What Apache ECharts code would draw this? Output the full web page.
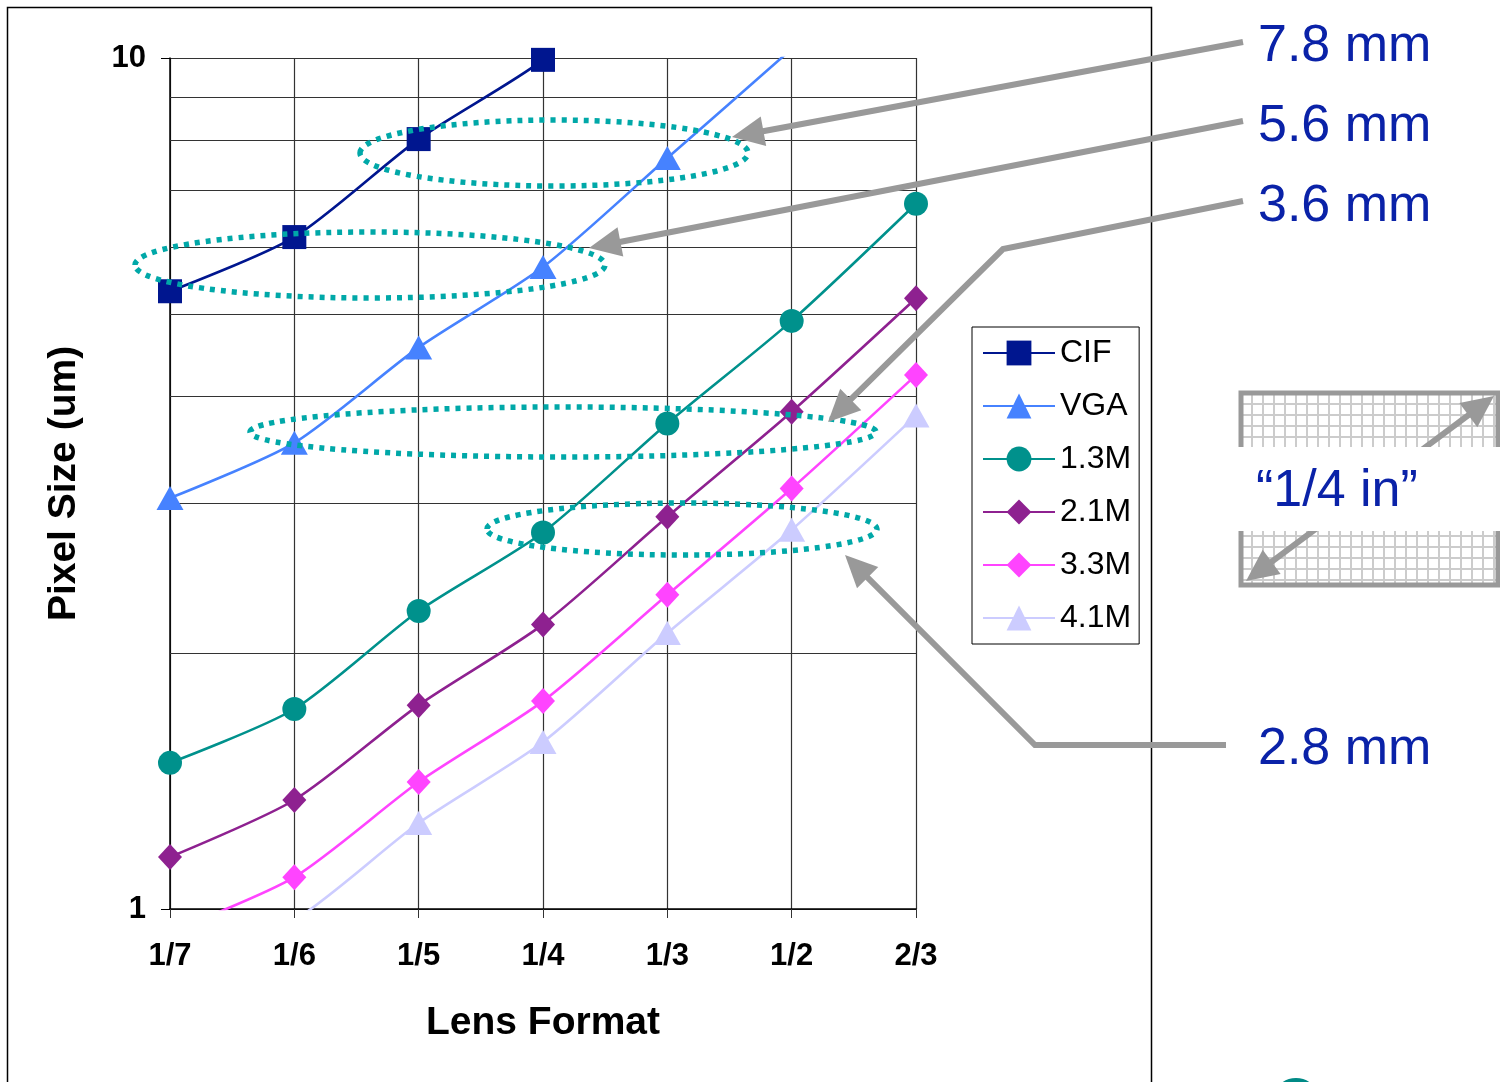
<!DOCTYPE html>
<html>
<head>
<meta charset="utf-8">
<script src="https://cdn.jsdelivr.net/npm/echarts@6/dist/echarts.min.js"></script>
<style>html,body{margin:0;padding:0;background:#fff}#c{width:1500px;height:1082px}</style>
</head>
<body>
<div id="c"></div>
<script>
// ---- data ----
const lensFormats = ['1/7', '1/6', '1/5', '1/4', '1/3', '1/2', '2/3'];
const cif   = [5.32, 6.16, 8.03, 9.95, 13.4, 17.8, 24.3];
const vga   = [3.04, 3.53, 4.57, 5.68, 7.63, 10.25, 13.9];
const m13   = [1.485, 1.718, 2.24, 2.77, 3.72, 4.91, 6.74];
const m21   = [1.151, 1.343, 1.736, 2.16, 2.89, 3.84, 5.22];
const m33   = [0.94, 1.09, 1.41, 1.755, 2.34, 3.12, 4.24];
const m41   = [0.84, 0.97, 1.262, 1.571, 2.11, 2.79, 3.80];
const minorGrid = [2, 3, 4, 5, 6, 7, 8, 9];
const annoTexts = ['7.8 mm', '5.6 mm', '3.6 mm', '2.8 mm', '\u201C1/4 in\u201D'];

const FONT = '"Liberation Sans", Arial, Helvetica, sans-serif';
const chart = echarts.init(document.getElementById('c'), null, {renderer: 'canvas'});

function ser(name, data, color, symbol, size) {
  return {
    name, type: 'line', data, smooth: 0.25,
    symbol, symbolSize: size,
    lineStyle: {color, width: 2.6},
    itemStyle: {color},
    z: 3
  };
}

const series = [
  ser('CIF', cif, '#00168f', 'rect', 24),
  ser('VGA', vga, '#4682ff', 'triangle', [27, 24]),
  ser('1.3M', m13, '#00918c', 'circle', 24),
  ser('2.1M', m21, '#8e2190', 'diamond', [24, 26]),
  ser('3.3M', m33, '#ff44ff', 'diamond', [24, 26]),
  ser('4.1M', m41, '#ccccff', 'triangle', [27, 24])
];
series[0].markLine = {
  silent: true, symbol: 'none', z: 1,
  label: {show: false},
  lineStyle: {color: '#333', type: 'solid', width: 1.2},
  data: minorGrid.map(v => ({yAxis: v}))
};

// ---- annotations (decorations) ----
const TEAL = '#00a8a8', GREY = '#999999', BLUE = '#0a22a8';
const g = [];
g.push({type: 'rect', shape: {x: 7.5, y: 7.5, width: 1144, height: 1100}, style: {fill: 'none', stroke: '#000', lineWidth: 1.5}, z: 0});
[[554,153,194,33],[370,265,235,33],[563,432,313,25],[682,529,195,26]].forEach(e => {
  g.push({type: 'ellipse', shape: {cx: e[0], cy: e[1], rx: e[2], ry: e[3]},
    style: {fill: 'none', stroke: TEAL, lineWidth: 5.5, lineDash: [5, 6]}, z: 10});
});
function arrowHead(tx, ty, fx, fy, len, w) {
  const dx = tx - fx, dy = ty - fy, L = Math.hypot(dx, dy);
  const ux = dx / L, uy = dy / L;
  const bx = tx - ux * len, by = ty - uy * len;
  return [[tx, ty], [bx - uy * w, by + ux * w], [bx + uy * w, by - ux * w]];
}
function arrow(points) {
  const n = points.length;
  const tip = points[n - 1], prev = points[n - 2];
  const head = arrowHead(tip[0], tip[1], prev[0], prev[1], 32, 15);
  const dx = tip[0] - prev[0], dy = tip[1] - prev[1], L = Math.hypot(dx, dy);
  const pts = points.slice(0, n - 1).concat([[tip[0] - dx / L * 26, tip[1] - dy / L * 26]]);
  g.push({type: 'polyline', shape: {points: pts}, style: {stroke: GREY, lineWidth: 6, fill: 'none'}, z: 11});
  g.push({type: 'polygon', shape: {points: head}, style: {fill: GREY}, z: 11});
}
arrow([[1243, 42], [732, 137]]);
arrow([[1243, 121], [589, 248]]);
arrow([[1243, 201], [1003, 249], [828, 422]]);
arrow([[1226, 745], [1035, 745], [845, 555]]);

const bx0 = 1241, by0 = 393, bx1 = 1498, by1 = 585;
for (let x = bx0 + 11; x < bx1; x += 11) g.push({type: 'line', shape: {x1: x, y1: by0, x2: x, y2: by1}, style: {stroke: '#cccccc', lineWidth: 2}, z: 5});
for (let y = by0 + 11; y < by1; y += 11) g.push({type: 'line', shape: {x1: bx0, y1: y, x2: bx1, y2: y}, style: {stroke: '#cccccc', lineWidth: 2}, z: 5});
g.push({type: 'rect', shape: {x: bx0, y: by0, width: bx1 - bx0, height: by1 - by0}, style: {fill: 'none', stroke: GREY, lineWidth: 5}, z: 6});
(function () {
  const a = [1246, 581], b = [1494, 396];
  const h1 = arrowHead(b[0], b[1], a[0], a[1], 32, 15);
  const h2 = arrowHead(a[0], a[1], b[0], b[1], 32, 15);
  const dx = b[0] - a[0], dy = b[1] - a[1], L = Math.hypot(dx, dy);
  g.push({type: 'line', shape: {x1: a[0] + dx / L * 26, y1: a[1] + dy / L * 26, x2: b[0] - dx / L * 26, y2: b[1] - dy / L * 26}, style: {stroke: GREY, lineWidth: 6}, z: 7});
  g.push({type: 'polygon', shape: {points: h1}, style: {fill: GREY}, z: 7});
  g.push({type: 'polygon', shape: {points: h2}, style: {fill: GREY}, z: 7});
})();
g.push({type: 'rect', shape: {x: 1236, y: 447, width: 264, height: 84}, style: {fill: '#fff'}, z: 8});

[[1258, 47], [1258, 127], [1258, 207], [1258, 750], [1256, 492]].forEach((p, i) => {
  g.push({type: 'text', x: p[0], y: p[1], style: {text: annoTexts[i], fill: BLUE, font: '52px ' + FONT, textVerticalAlign: 'middle', textAlign: 'left'}, z: 12});
});
g.push({type: 'ellipse', shape: {cx: 1296, cy: 1094, rx: 20, ry: 16}, style: {fill: '#008a86'}, z: 2});

const option = {
  backgroundColor: '#fff',
  animation: false,
  grid: {left: 170, right: 584, top: 58, bottom: 173, containLabel: false},
  legend: {
    orient: 'vertical', left: 972, top: 327,
    padding: [10, 8, 10, 10],
    itemWidth: 72, itemHeight: 31, itemGap: 21,
    borderColor: '#000', borderWidth: 1, backgroundColor: '#fff',
    textStyle: {fontSize: 32, fontFamily: FONT, color: '#000'},
    data: ['CIF', 'VGA', '1.3M', '2.1M', '3.3M', '4.1M'],
    z: 20
  },
  xAxis: {
    type: 'category', data: lensFormats, boundaryGap: false,
    name: 'Lens Format', nameLocation: 'middle', nameGap: 95,
    nameTextStyle: {fontSize: 39, fontWeight: 'bold', fontFamily: FONT, color: '#000'},
    axisLine: {lineStyle: {color: '#000', width: 1.5}},
    axisTick: {show: true, length: 9, alignWithLabel: true, lineStyle: {color: '#333'}},
    axisLabel: {fontSize: 31, fontWeight: 'bold', fontFamily: FONT, color: '#000', margin: 32},
    splitLine: {show: true, lineStyle: {color: '#333', width: 1.2}}
  },
  yAxis: {
    type: 'log', logBase: 10, min: 1, max: 10,
    name: 'Pixel Size (um)', nameLocation: 'middle', nameGap: 86,
    nameTextStyle: {fontSize: 39, fontWeight: 'bold', fontFamily: FONT, color: '#000'},
    axisLine: {show: true, lineStyle: {color: '#000', width: 1.5}},
    axisTick: {show: true, length: 9, lineStyle: {color: '#000'}},
    axisLabel: {fontSize: 31, fontWeight: 'bold', fontFamily: FONT, color: '#000', margin: 24},
    splitLine: {show: true, lineStyle: {color: '#333', width: 1.2}},
    minorTick: {show: false}, minorSplitLine: {show: false}
  },
  series,
  graphic: g
};
chart.setOption(option);
</script>
</body>
</html>
